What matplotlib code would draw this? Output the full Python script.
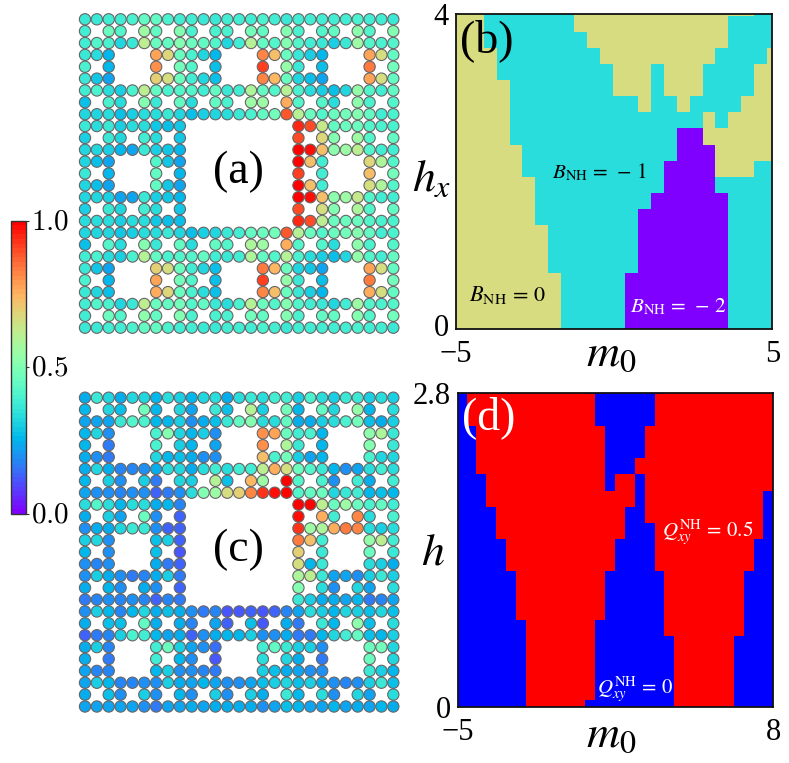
import numpy as np
import matplotlib
matplotlib.use("Agg")
import matplotlib.pyplot as plt
from matplotlib.colors import ListedColormap, Normalize
from matplotlib.cm import ScalarMappable
from matplotlib.transforms import ScaledTranslation

W, H = 789, 763
plt.rcParams['font.family'] = ['Liberation Serif', 'DejaVu Serif']
plt.rcParams['mathtext.fontset'] = 'stix'

# Site values of panel (a): one list per lattice row, occupied sites only
ldos_a = [
 [.36,.36,.38,.38,.40,.44,.44,.40,.38,.38,.36,.36,.38,.38,.38,.40,.38,.36,.38,.38,.38,.38,.38,.40,.38,.38,.36],
 [.38,.46,.42,.55,.44,.50,.40,.40,.40,.48,.44,.50,.40,.42,.44,.52,.42,.50],
 [.38,.42,.40,.32,.36,.62,.46,.44,.50,.46,.44,.42,.32,.38,.60,.45,.42,.50,.42,.38,.36,.30,.36,.55,.42,.40,.42],
 [.36,.34,.25,.78,.68,.46,.40,.32,.25,.82,.72,.46,.36,.30,.25,.78,.66,.44],
 [.40,.25,.80,.48,.42,.27,.92,.54,.36,.27,.84,.48],
 [.36,.29,.23,.70,.66,.46,.38,.32,.27,.82,.74,.46,.32,.27,.23,.78,.66,.44],
 [.38,.40,.34,.30,.40,.62,.44,.40,.42,.42,.38,.44,.36,.38,.58,.44,.42,.60,.40,.34,.30,.27,.32,.54,.42,.38,.44],
 [.28,.40,.34,.50,.36,.44,.34,.44,.40,.56,.56,.76,.42,.42,.34,.52,.40,.42],
 [.32,.32,.34,.28,.30,.34,.34,.36,.32,.27,.30,.32,.34,.36,.40,.44,.48,.88,.60,.46,.42,.46,.48,.50,.44,.38,.40],
 [.36,.34,.36,.30,.34,.34,.29,.27,.29,.95,.90,.64,.44,.46,.46,.42,.40,.40],
 [.30,.36,.32,.38,.34,.29,.90,.68,.50,.56,.42,.44],
 [.32,.32,.30,.25,.23,.36,.30,.29,.25,1.0,.98,.72,.52,.56,.62,.42,.38,.38],
 [.32,.28,.23,.42,.29,.22,1.0,.72,.38,.68,.58,.42],
 [.36,.25,.44,.25,.92,.38,.72,.48],
 [.32,.28,.23,.44,.29,.22,1.0,.72,.38,.66,.58,.42],
 [.32,.32,.30,.23,.22,.36,.30,.29,.25,1.0,.98,.72,.52,.56,.64,.42,.38,.38],
 [.30,.36,.32,.38,.34,.29,.90,.66,.50,.58,.42,.44],
 [.34,.34,.34,.30,.34,.34,.29,.27,.27,.94,.90,.62,.46,.46,.46,.42,.40,.40],
 [.32,.32,.32,.29,.30,.34,.34,.36,.32,.27,.30,.32,.36,.38,.44,.46,.48,.88,.60,.46,.42,.46,.48,.50,.44,.38,.40],
 [.28,.42,.34,.50,.36,.44,.34,.44,.42,.58,.56,.76,.42,.42,.34,.52,.40,.42],
 [.38,.40,.34,.30,.40,.60,.44,.40,.42,.42,.44,.38,.36,.38,.58,.44,.42,.60,.40,.34,.30,.27,.32,.54,.42,.38,.44],
 [.36,.29,.23,.70,.66,.46,.38,.32,.27,.84,.74,.46,.32,.29,.23,.78,.66,.44],
 [.40,.25,.78,.48,.42,.27,.92,.54,.36,.27,.84,.48],
 [.36,.32,.27,.76,.68,.46,.40,.34,.27,.82,.72,.46,.36,.30,.25,.76,.66,.44],
 [.38,.42,.40,.32,.36,.62,.46,.44,.48,.42,.44,.36,.34,.40,.60,.46,.42,.50,.42,.38,.36,.32,.38,.55,.42,.40,.42],
 [.38,.46,.42,.52,.44,.50,.40,.40,.40,.48,.44,.50,.40,.44,.44,.50,.42,.48],
 [.36,.36,.38,.38,.40,.44,.44,.40,.38,.38,.36,.36,.38,.38,.38,.40,.38,.36,.38,.38,.38,.38,.38,.40,.38,.38,.36],
]

# Site values of panel (c)
ldos_c = [
 [.24,.36,.32,.24,.32,.32,.26,.34,.30,.25,.32,.34,.24,.34,.36,.34,.38,.38,.30,.40,.34,.30,.36,.36,.30,.34,.30],
 [.26,.32,.28,.48,.25,.32,.22,.36,.28,.60,.30,.48,.26,.44,.32,.54,.26,.34],
 [.22,.22,.22,.36,.42,.40,.25,.26,.30,.20,.24,.28,.36,.44,.50,.34,.34,.44,.24,.24,.30,.34,.40,.48,.28,.24,.30],
 [.26,.32,.20,.40,.50,.32,.26,.30,.20,.80,.78,.46,.38,.40,.26,.52,.58,.36],
 [.26,.16,.40,.30,.25,.22,.80,.58,.36,.26,.50,.36],
 [.24,.19,.17,.32,.26,.28,.24,.20,.20,.72,.40,.48,.30,.22,.26,.40,.32,.32],
 [.24,.32,.24,.18,.18,.19,.24,.34,.32,.24,.34,.38,.34,.38,.38,.62,.76,.66,.46,.42,.36,.26,.20,.22,.34,.38,.34],
 [.26,.30,.19,.30,.16,.32,.30,.60,.28,.74,.56,1.0,.42,.40,.20,.38,.24,.38],
 [.22,.20,.20,.18,.20,.20,.14,.16,.20,.34,.50,.56,.66,.70,.82,.93,.98,1.0,.42,.44,.46,.32,.36,.38,.25,.28,.26],
 [.34,.42,.34,.26,.34,.34,.24,.26,.18,1.0,1.0,.62,.46,.56,.46,.40,.44,.38],
 [.24,.30,.22,.46,.20,.14,.98,.76,.38,.82,.34,.40],
 [.20,.24,.24,.32,.36,.36,.20,.13,.13,.93,.56,.58,.76,.84,.82,.34,.30,.34],
 [.30,.32,.20,.28,.30,.14,.84,.72,.38,.54,.62,.38],
 [.26,.20,.28,.11,.70,.36,.46,.36],
 [.20,.18,.20,.24,.16,.13,.66,.26,.36,.34,.30,.24],
 [.20,.30,.24,.20,.16,.18,.24,.30,.16,.58,.62,.36,.22,.22,.20,.30,.36,.30],
 [.24,.26,.20,.24,.20,.14,.50,.34,.20,.32,.22,.34],
 [.16,.18,.19,.18,.20,.18,.14,.18,.16,.36,.30,.24,.24,.22,.26,.16,.18,.22],
 [.20,.30,.26,.18,.26,.32,.24,.28,.24,.20,.16,.18,.12,.11,.14,.12,.13,.18,.22,.34,.30,.26,.32,.30,.28,.32,.28],
 [.24,.28,.28,.44,.24,.24,.18,.22,.13,.28,.11,.24,.16,.36,.26,.52,.28,.34],
 [.13,.17,.18,.30,.40,.38,.26,.22,.24,.14,.20,.24,.26,.26,.30,.20,.20,.24,.16,.16,.26,.32,.38,.44,.28,.26,.30],
 [.24,.30,.18,.38,.46,.30,.22,.20,.15,.38,.44,.36,.30,.30,.20,.46,.48,.32],
 [.24,.16,.38,.26,.20,.12,.34,.32,.24,.16,.46,.32],
 [.22,.18,.18,.26,.30,.20,.20,.18,.16,.30,.28,.24,.22,.20,.20,.36,.30,.26],
 [.22,.30,.26,.18,.18,.20,.20,.30,.24,.22,.26,.22,.20,.20,.22,.28,.30,.32,.28,.30,.24,.20,.18,.20,.30,.36,.28],
 [.24,.28,.20,.30,.20,.26,.20,.30,.20,.30,.24,.36,.26,.34,.20,.32,.22,.34],
 [.22,.22,.22,.22,.22,.20,.16,.22,.22,.24,.22,.24,.24,.24,.24,.20,.22,.28,.26,.22,.22,.26,.22,.24,.22,.26,.24],
]

# Panel (b): Bott index per row from the top, as (value, column count)
K, T, P = 0, -1, -2
bott_rows = [
 [(K,3),(T,7),(K,14),(T,2)],
 [(K,3),(T,7),(K,12),(T,4)],
 [(K,3),(T,8),(K,11),(T,4)],
 [(K,4),(T,8),(K,9),(T,4),(K,1)],
 [(K,4),(T,9),(K,3),(T,1),(K,3),(T,4),(K,2)],
 [(K,5),(T,8),(K,3),(T,1),(K,3),(T,4),(K,2)],
 [(K,5),(T,10),(K,1),(T,2),(K,1),(T,4),(K,3)],
 [(K,5),(T,15),(K,1),(T,1),(K,4)],
 [(K,5),(T,13),(P,2),(K,6)],
 [(K,6),(T,12),(P,3),(K,5)],
 [(K,6),(T,11),(P,4),(K,3),(T,2)],
 [(K,7),(T,10),(P,4),(T,5)],
 [(K,7),(T,9),(P,6),(T,4)],
 [(K,7),(T,8),(P,7),(T,4)],
 [(K,8),(T,7),(P,7),(T,4)],
 [(K,8),(T,7),(P,7),(T,4)],
 [(K,8),(T,7),(P,7),(T,4)],
 [(K,9),(T,5),(P,8),(T,4)],
 [(K,9),(T,5),(P,8),(T,4)],
 [(K,9),(T,5),(P,8),(T,4)],
 [(K,9),(T,5),(P,8),(T,4)],
]
bott_m0_edges = [-5.0] + [-4.922 + 0.4063 * k for k in range(25)] + [5.0]
bott_hx_edges = [0.0] + [0.0973 + 0.2044 * k for k in range(20)] + [4.0]

# Panel (d): quadrupole moment per row from the top, as (value, column count)
B, R = 0.0, 0.5
quad_rows = [
 [(B,1),(R,12),(B,8),(R,11)],
 [(B,1),(R,13),(B,6),(R,12)],
 [(B,1),(R,13),(B,6),(R,12)],
 [(B,2),(R,13),(B,4),(R,13)],
 [(B,2),(R,13),(B,4),(R,13)],
 [(B,2),(R,13),(B,3),(R,14)],
 [(B,3),(R,12),(B,1),(R,2),(B,1),(R,13)],
 [(B,3),(R,15),(B,1),(R,12),(B,1)],
 [(B,4),(R,13),(B,2),(R,12),(B,1)],
 [(B,4),(R,13),(B,3),(R,11),(B,1)],
 [(B,5),(R,11),(B,4),(R,10),(B,2)],
 [(B,5),(R,11),(B,4),(R,10),(B,2)],
 [(B,6),(R,9),(B,6),(R,8),(B,3)],
 [(B,6),(R,9),(B,6),(R,8),(B,3)],
 [(B,6),(R,9),(B,6),(R,8),(B,3)],
 [(B,7),(R,7),(B,7),(R,8),(B,3)],
 [(B,7),(R,7),(B,8),(R,6),(B,4)],
 [(B,7),(R,7),(B,8),(R,6),(B,4)],
 [(B,7),(R,7),(B,8),(R,6),(B,4)],
 [(B,7),(R,7),(B,8),(R,6),(B,4)],
 [(B,7),(R,6),(B,9),(R,6),(B,4)],
]
quad_m0_edges = [-5.0] + [-4.636 + 0.4077 * k for k in range(31)] + [8.0]
quad_h_edges = [0.0] + [0.0629 + 0.14356 * k for k in range(20)] + [2.8]

colorbar_ticks = [0.0, 0.5, 1.0]
colorbar_labels = ['0.0', '0.5', '1.0']


def expand(rows):
    m = np.array([[v for v, n in r for _ in range(n)] for r in rows], dtype=float)
    return m[::-1]


def is_site(r, c):
    while r > 0 or c > 0:
        if r % 3 == 1 and c % 3 == 1:
            return False
        r //= 3
        c //= 3
    return True


def add_axes_px(x0, y0, x1, y1):
    return fig.add_axes([x0 / W, 1 - y1 / H, (x1 - x0) / W, (y1 - y0) / H])


def ftext(x, y, s, **kw):
    kw.setdefault('ha', 'center')
    kw.setdefault('va', 'center')
    return fig.text(x / W, 1 - y / H, s, **kw)


fig = plt.figure(figsize=(W / 100, H / 100), dpi=100)
norm = Normalize(0, 1)
cmap = plt.get_cmap('rainbow', 64)


def carpet(ax, values):
    xs, ys, cs = [], [], []
    for r, row in enumerate(values):
        cols = [c for c in range(27) if is_site(r, c)]
        assert len(cols) == len(row), (r, len(cols), len(row))
        xs += cols
        ys += [r] * len(cols)
        cs += row
    ax.scatter(xs, ys, c=cs, cmap=cmap, norm=norm, s=66, edgecolors='#666666',
               linewidths=0.8, clip_on=False)
    ax.set_xlim(0, 26)
    ax.set_ylim(26, 0)
    ax.axis('off')


ax_a = add_axes_px(85, 19.3, 393.3, 327.7)
carpet(ax_a, ldos_a)
ax_c = add_axes_px(85, 397.7, 393.3, 706.5)
carpet(ax_c, ldos_c)
ftext(238, 172, '(a)', fontsize=33)
ftext(238, 550, '(c)', fontsize=33)

# Colour bar
cax = add_axes_px(11, 220.7, 26, 514)
cb = fig.colorbar(ScalarMappable(norm=norm, cmap=cmap), cax=cax, ticks=colorbar_ticks)
cb.ax.set_yticklabels([])
cb.ax.tick_params(length=2, width=0.8, direction='out', color='#333333')
cb.outline.set_linewidth(1.0)
cb.outline.set_edgecolor('#333333')
for tick, lab in zip(colorbar_ticks, colorbar_labels):
    cax.annotate('$' + lab + '$', (1, tick), xycoords=cax.get_yaxis_transform(),
                 xytext=(3.5, -1), textcoords='offset points', fontsize=21,
                 ha='left', va='center', math_fontfamily='cm')


def phase(ax, xe, ye, rows, colors, vmin, vmax, xt, yt):
    mat = expand(rows)
    ax.pcolormesh(xe, ye, mat, cmap=ListedColormap(colors), vmin=vmin, vmax=vmax,
                  shading='flat', antialiased=False, linewidth=0, rasterized=True)
    ax.set_xlim(xe[0], xe[-1])
    ax.set_ylim(ye[0], ye[-1])
    ax.set_xticks(xt)
    ax.set_xticklabels([str(v).replace('-', '\u2212') for v in xt], fontsize=22)
    ax.set_yticks(yt)
    ax.set_yticklabels([str(v) for v in yt], fontsize=22)
    ax.tick_params(axis='x', length=0, pad=8)
    ax.tick_params(axis='y', length=0, pad=5)
    for s in ax.spines.values():
        s.set_linewidth(1.3)
        s.set_color('#111111')


ax_b = add_axes_px(455.7, 14.3, 772.3, 329.3)
phase(ax_b, bott_m0_edges, bott_hx_edges, bott_rows,
      ['#8000ff', '#2adddd', '#d6dc7f'], -2.5, 0.5, [-5, 5], [0, 4])
ax_d = add_axes_px(457.7, 392.7, 773.3, 707.3)
phase(ax_d, quad_m0_edges, quad_h_edges, quad_rows,
      ['#0000ff', '#ff0000'], -0.25, 0.75, [-5, 8], [0, 2.8])
lift = ScaledTranslation(0, 4 / 100, fig.dpi_scale_trans)
zero_label = ax_b.get_yticklabels()[0]
zero_label.set_transform(zero_label.get_transform() + lift)

ftext(487, 41, '(b)', fontsize=33)
ftext(489, 418, '(d)', fontsize=33, color='white')
ftext(611, 355, '$m_0$', fontsize=33)
ftext(611, 736, '$m_0$', fontsize=33)
ftext(432, 180, '$h_x$', fontsize=33)
ftext(433, 553, '$h$', fontsize=33)
ftext(599, 172, r'$B_{\mathrm{NH}}\,=\,-\,1$', fontsize=15.2)
ftext(507, 295, r'$B_{\mathrm{NH}}\,=\,0$', fontsize=16)
ftext(678, 307, r'$B_{\mathrm{NH}}\,=\,-\,2$', fontsize=15.2, color='white')
ftext(708, 533, r'$Q_{xy}^{\mathrm{NH}}\,=\,0.5$', fontsize=15, color='white')
ftext(635, 690, r'$Q_{xy}^{\mathrm{NH}}\,=\,0$', fontsize=15, color='white')

fig.savefig('out.png', dpi=100)
